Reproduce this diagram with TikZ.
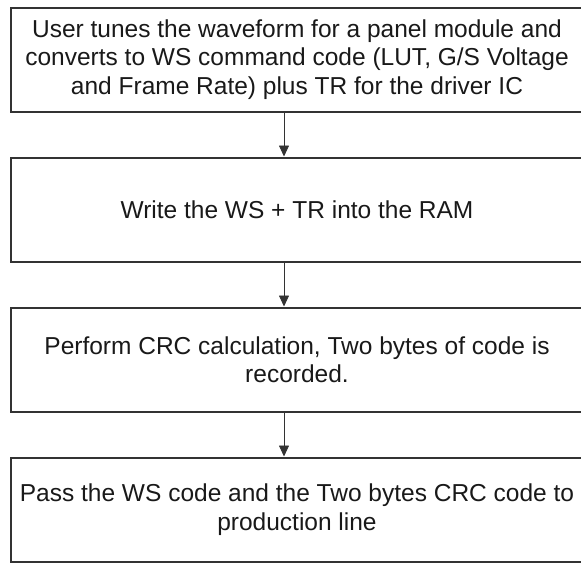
\documentclass[tikz,border=0pt]{standalone}
\usepackage{fontspec}
\setmainfont{Liberation Sans}
\usetikzlibrary{positioning,arrows.meta}

\tikzset{
  stepbox/.style={draw=black!80, line width=2pt, minimum width=572pt, minimum height=104pt,
    inner sep=0pt, align=center, font=\fontsize{24.5}{28.5}\selectfont, text=black!90},
  flow/.style={-{Triangle[length=11pt,width=10pt]}, line width=0.8pt, draw=black!80}
}

\begin{document}
\begin{tikzpicture}[x=1pt, y=-1pt, node distance=44pt]
    \useasboundingbox (0,0) rectangle (581,563);
    \node[stepbox] (tune) at (297,59.5) {User tunes the waveform for a panel module and\\converts to WS command code (LUT, G/S Voltage\\and Frame Rate) plus TR for the driver IC};
    \node[stepbox, below=of tune] (write) {Write the WS + TR into the RAM};
    \node[stepbox, below=of write] (crc) {Perform CRC calculation, Two bytes of code is\\recorded.};
    \node[stepbox, below=of crc] (pass) {Pass the WS code and the Two bytes CRC code to\\production line};
    \draw[flow] ([xshift=-13pt]tune.south) -- ([xshift=-13pt]write.north);
    \draw[flow] ([xshift=-13pt]write.south) -- ([xshift=-13pt]crc.north);
    \draw[flow] ([xshift=-13pt]crc.south) -- ([xshift=-13pt]pass.north);
\end{tikzpicture}
\end{document}
